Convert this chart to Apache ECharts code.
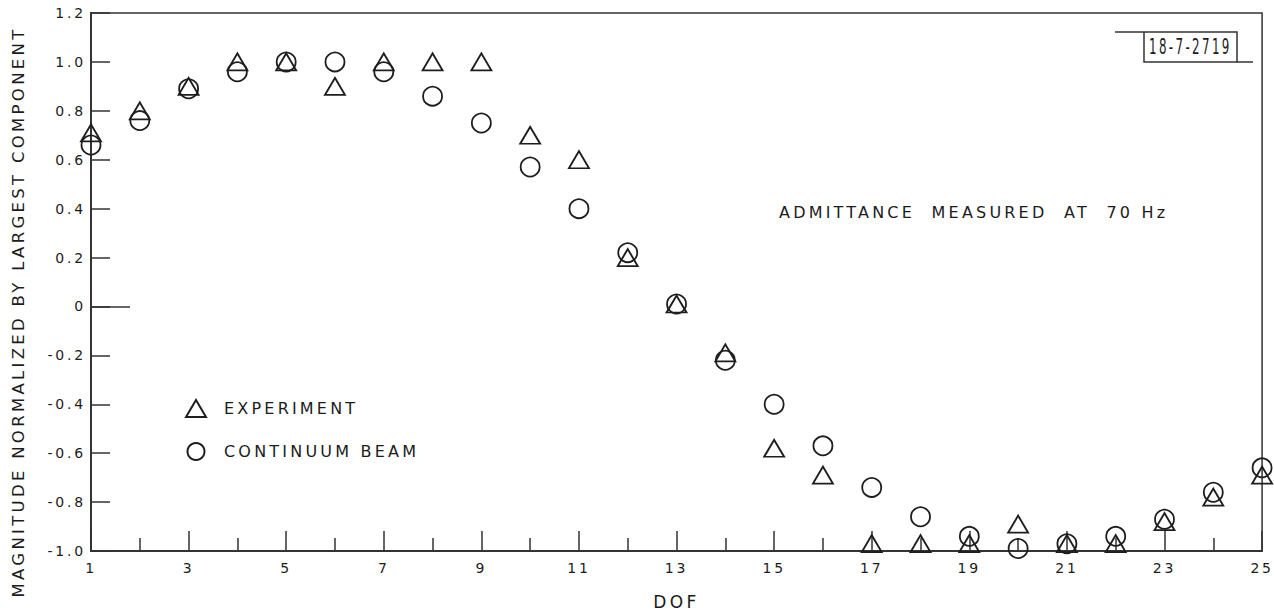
<!DOCTYPE html>
<html>
<head>
<meta charset="utf-8">
<script src="https://cdn.jsdelivr.net/npm/echarts@6/dist/echarts.min.js"></script>
<style>
  html, body { margin: 0; padding: 0; background: #fff; }
  #chart { width: 1274px; height: 615px; }
  /* the hand lettering is spaced out */
  #chart text { letter-spacing: 0.2em; white-space: pre; }
</style>
</head>
<body>
<div id="chart"></div>
<script>
// DOF numbers along the bottom
var dof = [1, 2, 3, 4, 5, 6, 7, 8, 9, 10, 11, 12, 13, 14, 15, 16, 17, 18, 19, 20, 21, 22, 23, 24, 25];
// triangles
var experiment = [0.71, 0.80, 0.90, 1.00, 1.00, 0.90, 1.00, 1.00, 1.00, 0.70, 0.60, 0.20, 0.01, -0.19, -0.58,
  -0.69, -0.97, -0.97, -0.97, -0.89, -0.97, -0.97, -0.88, -0.78, -0.69];
// circles
var continuum = [0.66, 0.76, 0.89, 0.96, 1.00, 1.00, 0.96, 0.86, 0.75, 0.57, 0.40, 0.22, 0.01, -0.22, -0.40,
  -0.57, -0.74, -0.86, -0.94, -0.99, -0.97, -0.94, -0.87, -0.76, -0.66];
var oddTicks = [1, 3, 5, 7, 9, 11, 13, 15, 17, 19, 21, 23, 25];
var evenTicks = [2, 4, 6, 8, 10, 12, 14, 16, 18, 20, 22, 24];

var ink = '#1c1c1c';

function pairs(ys) {
  return dof.map(function (x, i) { return [x, ys[i]]; });
}

var myChart = echarts.init(document.getElementById('chart'), null, { renderer: 'svg' });

var option = {
  backgroundColor: '#fff',
  animation: false,
  textStyle: { fontFamily: 'DejaVu Sans', color: ink },
  grid: {
    left: 91, right: 7, top: 13, bottom: 62,
    show: true,
    borderColor: '#333',
    borderWidth: 1.5
  },
  legend: {
    orient: 'vertical',
    left: 180,
    top: 394,
    itemWidth: 20,
    itemHeight: 17,
    itemGap: 24,
    textStyle: { fontSize: 16, color: ink, padding: [0, 0, 0, 13] },
    data: ['EXPERIMENT', 'CONTINUUM BEAM']
  },
  xAxis: [{
    type: 'value',
    min: 1,
    max: 25,
    interval: 1,
    position: 'bottom',
    name: 'DOF',
    nameLocation: 'middle',
    nameGap: 42,
    nameTextStyle: { fontSize: 17, color: ink },
    splitLine: { show: false },
    axisLine: { onZero: false, lineStyle: { color: '#333', width: 2 } },
    axisTick: {
      inside: true,
      length: 20,
      customValues: oddTicks,
      lineStyle: { color: '#333', width: 1.5 }
    },
    axisLabel: {
      customValues: oddTicks,
      margin: 10,
      fontSize: 14,
      color: ink
    }
  }, {
    // short ticks at the even DOF
    type: 'value',
    min: 1,
    max: 25,
    interval: 1,
    position: 'bottom',
    offset: 0,
    splitLine: { show: false },
    axisLine: { show: false, onZero: false },
    axisLabel: { show: false },
    axisTick: {
      inside: true,
      length: 13,
      customValues: evenTicks,
      lineStyle: { color: '#333', width: 1.5 }
    }
  }],
  yAxis: {
    type: 'value',
    min: -1,
    max: 1.2,
    interval: 0.2,
    splitLine: { show: false },
    axisLine: { show: true, onZero: false, lineStyle: { color: '#333', width: 2 } },
    axisTick: { inside: true, length: 19, lineStyle: { color: '#333', width: 1.5 } },
    axisLabel: {
      margin: 5,
      fontSize: 14,
      color: ink,
      formatter: function (v) {
        if (Math.abs(v) < 1e-9) return '0';
        return v.toFixed(1);
      }
    }
  },
  graphic: [{
    type: 'text',
    x: 18,
    y: 312,
    rotation: Math.PI / 2,
    style: {
      text: 'MAGNITUDE NORMALIZED BY LARGEST COMPONENT',
      x: 0, y: 0,
      align: 'center',
      verticalAlign: 'middle',
      fontSize: 16.5,
      fontFamily: 'DejaVu Sans',
      fill: ink
    }
  }, {
    type: 'text',
    x: 779,
    y: 212,
    style: {
      text: 'ADMITTANCE  MEASURED  AT  70 Hz',
      x: 0, y: 0,
      align: 'left',
      verticalAlign: 'middle',
      fontSize: 16,
      fontFamily: 'DejaVu Sans',
      fill: ink
    }
  }, {
    // drawing number box top right
    type: 'group',
    children: [{
      type: 'polyline',
      shape: { points: [[1115, 32], [1237, 32], [1237, 62], [1144, 62], [1144, 32]] },
      style: { stroke: '#333', lineWidth: 1.5, fill: null }
    }, {
      type: 'line',
      shape: { x1: 1237, y1: 62, x2: 1253, y2: 62 },
      style: { stroke: '#333', lineWidth: 1.5 }
    }, {
      type: 'text',
      x: 1149,
      y: 47,
      scaleX: 0.54,
      style: {
        text: '18-7-2719',
        x: 0, y: 0,
        align: 'left',
        verticalAlign: 'middle',
        fontSize: 22,
        fontFamily: 'DejaVu Sans',
        fill: ink
      }
    }]
  }],
  series: [{
    name: 'EXPERIMENT',
    type: 'scatter',
    data: pairs(experiment),
    symbol: 'triangle',
    symbolSize: [20, 17],
    itemStyle: { color: 'rgba(255,255,255,0)', borderColor: '#1e1e1e', borderWidth: 1.8, opacity: 1 },
    emphasis: { disabled: true },
    markLine: {
      // the long tick at zero
      silent: true,
      symbol: 'none',
      label: { show: false },
      lineStyle: { color: '#333', width: 1.5, type: 'solid' },
      data: [[{ coord: [1, 0] }, { coord: [1.8, 0] }]]
    }
  }, {
    name: 'CONTINUUM BEAM',
    type: 'scatter',
    data: pairs(continuum),
    symbol: 'circle',
    symbolSize: 19,
    itemStyle: { color: 'rgba(255,255,255,0)', borderColor: '#1e1e1e', borderWidth: 1.8, opacity: 1 },
    emphasis: { disabled: true }
  }]
};

myChart.setOption(option);
</script>
</body>
</html>
